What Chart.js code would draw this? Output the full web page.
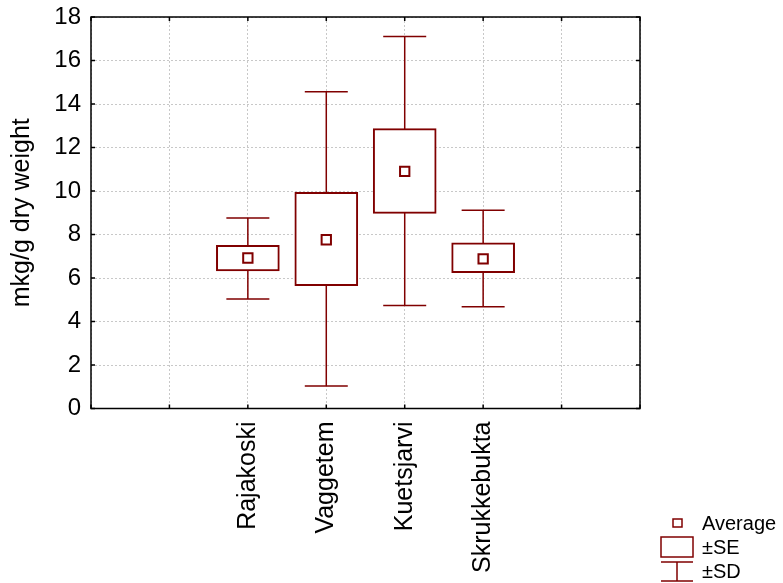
<!DOCTYPE html>
<html>
<head>
<meta charset="utf-8">
<script src="https://cdn.jsdelivr.net/npm/chart.js@4.4.1/dist/chart.umd.min.js"></script>
<style>
  html, body { margin: 0; padding: 0; background: #fff; }
  #box { width: 783px; height: 583px; }
</style>
</head>
<body>
<div id="box"><canvas id="myChart" width="783" height="583"></canvas></div>
<script>
// data
var categories = ['Rajakoski', 'Vaggetem', 'Kuetsjarvi', 'Skrukkebukta'];
var positions = [2, 3, 4, 5];
var means = [6.92, 7.76, 10.90, 6.88];
var seLow = [6.33, 5.65, 8.97, 6.24];
var seHigh = [7.50, 9.94, 12.87, 7.62];
var sdLow = [5.04, 1.04, 4.73, 4.68];
var sdHigh = [8.76, 14.56, 17.10, 9.12];
var yMin = 0, yMax = 18, yStep = 2;
var xMin = 0, xMax = 7;

var RED = '#800000';
var FONT = 'Arial, "Liberation Sans", sans-serif';

var seData = [];
var meanData = [];
for (var i = 0; i < categories.length; i++) {
    seData.push({ x: positions[i], y: [seLow[i], seHigh[i]] });
    meanData.push({ x: positions[i], y: means[i] });
}

// whiskers (±SD) under the boxes
var whiskerPlugin = {
    id: 'whiskers',
    beforeDatasetsDraw: function(chart) {
        var ctx = chart.ctx;
        var xs = chart.scales.x, ys = chart.scales.y;
        ctx.save();
        ctx.strokeStyle = RED;
        ctx.lineWidth = 1.5;
        for (var i = 0; i < positions.length; i++) {
            var x = xs.getPixelForValue(positions[i]);
            var top = ys.getPixelForValue(sdHigh[i]);
            var bot = ys.getPixelForValue(sdLow[i]);
            ctx.beginPath();
            ctx.moveTo(x, top); ctx.lineTo(x, bot);
            ctx.moveTo(x - 21.5, top); ctx.lineTo(x + 21.5, top);
            ctx.moveTo(x - 21.5, bot); ctx.lineTo(x + 21.5, bot);
            ctx.stroke();
        }
        ctx.restore();
    }
};

// frame with inward ticks + legend
var framePlugin = {
    id: 'frame',
    afterDraw: function(chart) {
        var ctx = chart.ctx;
        var a = chart.chartArea;
        var xs = chart.scales.x, ys = chart.scales.y;
        ctx.save();
        ctx.strokeStyle = '#000';
        ctx.lineWidth = 1.5;
        ctx.strokeRect(a.left, a.top, a.right - a.left, a.bottom - a.top);
        ctx.beginPath();
        for (var v = yMin; v <= yMax; v += yStep) {
            var y = ys.getPixelForValue(v);
            ctx.moveTo(a.left, y); ctx.lineTo(a.left + 4, y);
            ctx.moveTo(a.right, y); ctx.lineTo(a.right - 4, y);
        }
        for (var k = xMin; k <= xMax; k++) {
            var x = xs.getPixelForValue(k);
            ctx.moveTo(x, a.bottom); ctx.lineTo(x, a.bottom - 4);
            ctx.moveTo(x, a.top); ctx.lineTo(x, a.top + 4);
        }
        ctx.stroke();

        // legend
        ctx.strokeStyle = RED;
        ctx.lineWidth = 1.5;
        ctx.fillStyle = '#fff';
        ctx.fillRect(673, 519, 9, 8);
        ctx.strokeRect(673, 519, 9, 8);
        ctx.strokeRect(661, 537, 32, 20);
        ctx.beginPath();
        ctx.moveTo(661, 562); ctx.lineTo(693, 562);
        ctx.moveTo(661, 581); ctx.lineTo(693, 581);
        ctx.moveTo(677, 562); ctx.lineTo(677, 581);
        ctx.stroke();
        ctx.fillStyle = '#000';
        ctx.font = '20px ' + FONT;
        ctx.textBaseline = 'middle';
        ctx.textAlign = 'left';
        ctx.fillText('Average', 702, 524);
        ctx.fillText('\u00b1SE', 702, 548);
        ctx.fillText('\u00b1SD', 702, 572);
        ctx.restore();
    }
};

var myChart = new Chart(document.getElementById('myChart').getContext('2d'), {
    type: 'bar',
    data: {
        datasets: [{
            type: 'bar',
            label: '\u00b1SE',
            data: seData,
            backgroundColor: '#fff',
            borderColor: RED,
            borderWidth: 2,
            borderSkipped: false,
            barThickness: 63,
            order: 2
        }, {
            type: 'scatter',
            label: 'Average',
            data: meanData,
            pointStyle: 'rect',
            pointRadius: 6.6,
            backgroundColor: '#fff',
            borderColor: RED,
            borderWidth: 2,
            order: 1
        }]
    },
    options: {
        responsive: false,
        animation: false,
        events: [],
        layout: {
            padding: { left: 0, top: 17, right: 143, bottom: 0 }
        },
        plugins: {
            legend: { display: false },
            tooltip: { enabled: false }
        },
        scales: {
            x: {
                type: 'linear',
                min: xMin,
                max: xMax,
                offset: false,
                afterFit: function(scale) {
                    scale.height = 174.5;
                    scale.paddingLeft = 0;
                    scale.paddingRight = 0;
                },
                grid: { color: '#c8c8c8', lineWidth: 1, drawTicks: false, offset: false },
                border: { display: false, dash: [2, 2] },
                ticks: {
                    stepSize: 1,
                    autoSkip: false,
                    maxRotation: 90,
                    minRotation: 90,
                    padding: 13,
                    color: '#000',
                    font: { family: FONT, size: 25 },
                    callback: function(value) {
                        var idx = positions.indexOf(value);
                        return idx >= 0 ? categories[idx] : '';
                    }
                }
            },
            y: {
                min: yMin,
                max: yMax,
                afterFit: function(scale) {
                    scale.width = 91;
                    scale.paddingTop = 0;
                    scale.paddingBottom = 0;
                },
                grid: { color: '#c8c8c8', lineWidth: 1, drawTicks: false },
                border: { display: false, dash: [2, 2] },
                ticks: {
                    stepSize: yStep,
                    padding: 10,
                    color: '#000',
                    font: { family: FONT, size: 24 }
                },
                title: {
                    display: true,
                    text: 'mkg/g dry weight',
                    color: '#000',
                    font: { family: FONT, size: 25 },
                    padding: { top: 7, bottom: 0 }
                }
            }
        }
    },
    plugins: [whiskerPlugin, framePlugin]
});
</script>
</body>
</html>
